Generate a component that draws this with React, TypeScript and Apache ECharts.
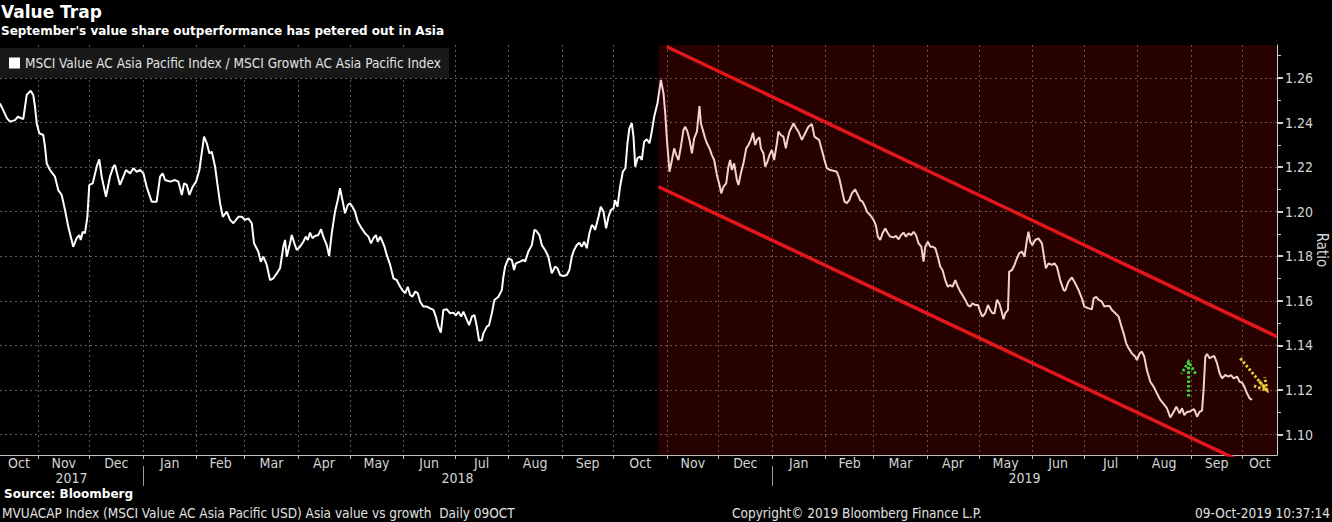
import React, { useEffect, useRef } from "react";
import * as echarts from "echarts";

const DAY = 86400000;
const START = Date.UTC(2017, 9, 10);
const END_DAY = 741;
const END = START + END_DAY * DAY;
const Y_MIN = 1.0908;
const Y_MAX = 1.2748;

const MONTHS = ["Jan", "Feb", "Mar", "Apr", "May", "Jun", "Jul", "Aug", "Sep", "Oct", "Nov", "Dec"];
const majorTicks = [1.1, 1.12, 1.14, 1.16, 1.18, 1.2, 1.22, 1.24, 1.26];
const minorTicks = [1.11, 1.13, 1.15, 1.17, 1.19, 1.21, 1.23, 1.25, 1.27];
const yearBreaks = [Date.UTC(2018, 0, 1), Date.UTC(2019, 0, 1)];

const SERIES_NAME = "MSCI Value AC Asia Pacific Index / MSCI Growth AC Asia Pacific Index";

// [days since 10-Oct-2017, ratio]
const ratioPoints: [number, number][] = [
  [0.0, 1.2486], [4.1, 1.2419], [5.8, 1.2404], [8.7, 1.2411], [10.4, 1.2426], [13.5, 1.2415],
  [15.5, 1.2524], [17.8, 1.2543], [19.3, 1.2524], [20.3, 1.2471], [21.3, 1.2397], [22.8, 1.2352],
  [25.1, 1.2344], [26.1, 1.2292], [27.1, 1.2217], [29.0, 1.2187], [31.9, 1.2157], [33.8, 1.2097],
  [35.8, 1.2075], [37.7, 1.2008], [39.6, 1.1933], [42.5, 1.1843], [44.5, 1.1881], [46.0, 1.1895],
  [46.8, 1.1873], [48.0, 1.191], [49.3, 1.1903], [50.7, 1.1977], [51.8, 1.212], [53.8, 1.2127],
  [56.1, 1.2202], [57.6, 1.2235], [59.0, 1.2157], [61.5, 1.2067], [63.8, 1.2157], [65.8, 1.2202],
  [66.7, 1.221], [69.6, 1.212], [71.6, 1.2157], [73.1, 1.2187], [75.5, 1.2172], [77.4, 1.2195],
  [79.3, 1.2179], [81.3, 1.2187], [83.2, 1.2172], [85.1, 1.2112], [88.0, 1.2045], [90.9, 1.2045],
  [92.9, 1.2157], [94.4, 1.2172], [95.8, 1.2142], [98.7, 1.2135], [101.6, 1.2142], [103.5, 1.2135],
  [105.5, 1.2075], [106.8, 1.2127], [108.4, 1.212], [109.9, 1.2075], [111.8, 1.2112], [113.8, 1.2135],
  [115.7, 1.2187], [118.4, 1.2337], [120.0, 1.2307], [121.5, 1.2262], [122.9, 1.2269], [124.8, 1.2202],
  [126.1, 1.2127], [127.7, 1.2038], [129.3, 1.1977], [131.6, 1.2], [133.5, 1.1963], [135.4, 1.1948],
  [138.3, 1.1977], [140.3, 1.1977], [142.2, 1.1963], [144.1, 1.197], [146.1, 1.1948], [147.4, 1.1858],
  [149.9, 1.182], [151.3, 1.1775], [152.8, 1.1798], [154.8, 1.1761], [156.7, 1.1693], [158.6, 1.1701],
  [160.6, 1.1723], [162.5, 1.1746], [164.4, 1.1843], [165.4, 1.1873], [166.4, 1.1798], [168.3, 1.1858],
  [169.3, 1.1895], [170.8, 1.1858], [172.2, 1.1828], [174.1, 1.1843], [176.0, 1.1865], [177.4, 1.1888],
  [178.6, 1.1873], [179.9, 1.1906], [181.3, 1.1881], [182.8, 1.1891], [184.7, 1.1895], [186.3, 1.1921],
  [187.6, 1.1888], [189.6, 1.185], [191.0, 1.1801], [192.5, 1.1903], [194.4, 1.2], [196.0, 1.2052],
  [197.3, 1.2105], [198.7, 1.2052], [200.2, 1.1993], [201.8, 1.203], [203.1, 1.2038], [204.5, 1.2022],
  [206.0, 1.2], [207.6, 1.1955], [209.9, 1.1925], [211.8, 1.1903], [213.8, 1.1888], [215.3, 1.1858],
  [216.7, 1.1881], [218.1, 1.1895], [219.2, 1.1865], [220.6, 1.1888], [221.5, 1.1873], [223.1, 1.1843],
  [224.4, 1.1806], [226.4, 1.1761], [228.3, 1.1701], [230.2, 1.1693], [232.2, 1.1663], [233.5, 1.1648],
  [235.1, 1.1634], [236.6, 1.1663], [238.0, 1.1626], [239.3, 1.1618], [240.9, 1.1641], [242.4, 1.1634],
  [243.8, 1.1596], [245.7, 1.1574], [247.7, 1.1574], [249.6, 1.1566], [251.5, 1.1559], [252.9, 1.1529],
  [254.4, 1.1484], [255.8, 1.1457], [257.3, 1.1559], [259.3, 1.1562], [261.2, 1.1544], [263.1, 1.1547],
  [264.5, 1.1535], [266.0, 1.1551], [267.6, 1.1529], [268.9, 1.1551], [270.9, 1.1514], [272.2, 1.1491],
  [273.8, 1.1529], [275.3, 1.1536], [276.7, 1.1484], [278.0, 1.1421], [279.6, 1.1424], [280.5, 1.1454],
  [282.5, 1.1484], [283.8, 1.1491], [285.4, 1.1544], [286.9, 1.1604], [289.2, 1.1618], [291.2, 1.1648],
  [292.1, 1.1708], [293.1, 1.1753], [295.0, 1.1791], [297.0, 1.1783], [298.3, 1.1738], [299.3, 1.1768],
  [301.8, 1.1776], [303.7, 1.1783], [304.7, 1.1776], [306.6, 1.1821], [308.6, 1.185], [310.1, 1.1918],
  [311.1, 1.1915], [313.0, 1.1895], [314.4, 1.185], [316.3, 1.1828], [318.2, 1.1798], [320.2, 1.1723],
  [322.1, 1.1753], [323.5, 1.1746], [325.0, 1.1716], [326.9, 1.1711], [328.9, 1.1716], [330.4, 1.1738],
  [331.8, 1.1798], [333.1, 1.1828], [334.7, 1.185], [336.2, 1.1861], [337.6, 1.1843], [339.0, 1.1865],
  [340.5, 1.1836], [342.0, 1.1903], [343.4, 1.194], [344.4, 1.1933], [345.3, 1.1918], [347.3, 1.1977],
  [348.6, 1.2022], [350.2, 1.2], [351.7, 1.1925], [353.1, 1.1977], [354.4, 1.2007], [356.0, 1.2015],
  [356.9, 1.2052], [358.3, 1.2022], [359.8, 1.2112], [361.4, 1.2179], [362.9, 1.2195], [364.1, 1.2307],
  [365.2, 1.2374], [366.6, 1.2397], [367.6, 1.2337], [368.6, 1.2202], [369.9, 1.224], [371.5, 1.2247],
  [372.4, 1.2232], [373.8, 1.2314], [375.3, 1.2325], [376.9, 1.2307], [378.2, 1.2359], [379.6, 1.2426],
  [381.5, 1.2486], [383.5, 1.2591], [385.0, 1.2531], [386.0, 1.2442], [387.0, 1.2322], [388.5, 1.2179],
  [389.9, 1.2232], [391.2, 1.2284], [392.4, 1.2254], [393.7, 1.2232], [395.1, 1.2292], [396.6, 1.2367],
  [397.6, 1.2381], [398.9, 1.2359], [400.1, 1.2322], [401.5, 1.2262], [402.8, 1.2329], [404.4, 1.2359],
  [405.9, 1.2474], [406.7, 1.2397], [407.8, 1.2367], [409.2, 1.2329], [410.2, 1.2307], [411.7, 1.2284],
  [413.1, 1.2254], [414.4, 1.2232], [416.0, 1.2165], [417.5, 1.212], [418.5, 1.2082], [419.8, 1.2112],
  [421.4, 1.2127], [422.7, 1.2202], [423.7, 1.2232], [424.7, 1.2187], [426.0, 1.2217], [427.6, 1.2142],
  [428.5, 1.212], [429.9, 1.2172], [431.4, 1.2217], [433.0, 1.2284], [434.3, 1.2299], [435.7, 1.2322],
  [436.9, 1.2354], [438.2, 1.2299], [439.2, 1.2322], [440.7, 1.2334], [441.5, 1.2284], [443.0, 1.2262],
  [444.0, 1.2202], [445.3, 1.2224], [446.5, 1.2254], [447.9, 1.2277], [449.2, 1.2232], [450.8, 1.2307],
  [451.7, 1.2359], [453.1, 1.2344], [454.6, 1.2337], [456.0, 1.2284], [456.9, 1.2322], [458.1, 1.2359],
  [459.5, 1.2381], [460.4, 1.2397], [462.0, 1.2374], [463.3, 1.2359], [465.3, 1.2322], [467.2, 1.2352],
  [469.1, 1.2381], [471.1, 1.2393], [472.6, 1.2337], [474.0, 1.2329], [475.3, 1.2322], [476.9, 1.2277],
  [478.4, 1.2232], [479.8, 1.2195], [481.7, 1.2187], [483.6, 1.2184], [485.6, 1.2179], [487.0, 1.215],
  [488.5, 1.2097], [490.0, 1.2045], [491.4, 1.2038], [492.8, 1.2052], [494.3, 1.2082], [496.2, 1.21],
  [497.8, 1.2075], [499.1, 1.2052], [500.5, 1.2045], [502.0, 1.2022], [503.0, 1.2], [504.9, 1.1985],
  [506.9, 1.1963], [508.2, 1.194], [509.4, 1.1888], [510.8, 1.1873], [512.1, 1.1903], [513.7, 1.1925],
  [515.2, 1.1903], [516.6, 1.1888], [518.5, 1.1885], [519.9, 1.1891], [521.4, 1.1876], [522.9, 1.1895],
  [524.3, 1.1906], [525.7, 1.1888], [527.2, 1.1903], [528.7, 1.1895], [530.1, 1.191], [531.5, 1.1895],
  [533.0, 1.1858], [534.6, 1.1843], [535.9, 1.1776], [536.9, 1.1843], [538.4, 1.1865], [539.8, 1.1843],
  [541.1, 1.1843], [542.7, 1.1836], [544.2, 1.1798], [545.6, 1.1753], [546.9, 1.1738], [548.5, 1.1693],
  [550.0, 1.1663], [551.4, 1.1671], [552.7, 1.1663], [554.3, 1.1693], [555.8, 1.1663], [557.2, 1.1641],
  [558.5, 1.1626], [560.1, 1.1604], [561.6, 1.1581], [563.0, 1.1574], [564.3, 1.1589], [565.9, 1.1581],
  [567.5, 1.1581], [568.8, 1.1551], [570.1, 1.1529], [571.7, 1.1544], [573.3, 1.1581], [574.6, 1.1559],
  [575.9, 1.1544], [577.1, 1.1544], [578.5, 1.1604], [579.8, 1.1589], [581.0, 1.1559], [582.3, 1.1517],
  [583.3, 1.1544], [584.9, 1.1559], [585.6, 1.1731], [587.2, 1.1738], [588.7, 1.1761], [590.1, 1.1791],
  [591.4, 1.1813], [593.0, 1.1821], [594.5, 1.1798], [595.9, 1.1873], [596.8, 1.191], [597.8, 1.1865],
  [599.1, 1.185], [600.7, 1.1873], [602.6, 1.188], [604.6, 1.1858], [606.1, 1.1783], [606.9, 1.1746],
  [608.4, 1.1768], [610.4, 1.1761], [611.9, 1.1768], [613.3, 1.1753], [615.2, 1.1693], [617.1, 1.1649],
  [618.1, 1.1645], [620.0, 1.1686], [622.0, 1.1705], [623.9, 1.1679], [625.8, 1.1649], [627.8, 1.1611],
  [629.2, 1.1574], [631.7, 1.1566], [633.6, 1.1562], [634.6, 1.1611], [636.1, 1.1618], [637.5, 1.1604],
  [639.4, 1.1596], [640.8, 1.1574], [642.3, 1.1577], [643.8, 1.1577], [645.2, 1.1559], [647.2, 1.1544],
  [649.1, 1.1529], [650.5, 1.1491], [652.0, 1.1454], [653.5, 1.1409], [654.9, 1.1387], [656.8, 1.1364],
  [658.8, 1.1349], [659.7, 1.1334], [661.3, 1.1364], [662.6, 1.1372], [664.0, 1.1349], [665.5, 1.1289],
  [667.5, 1.1237], [669.4, 1.1215], [671.3, 1.1185], [673.3, 1.1155], [675.2, 1.1137], [677.1, 1.1118],
  [679.1, 1.1077], [680.6, 1.1095], [682.6, 1.1125], [684.5, 1.1095], [685.9, 1.1118], [687.2, 1.1087],
  [688.8, 1.1102], [690.3, 1.1102], [691.7, 1.111], [693.0, 1.1113], [694.6, 1.108], [696.1, 1.1102],
  [697.5, 1.1107], [698.4, 1.12], [699.4, 1.1349], [700.4, 1.1361], [701.9, 1.1342], [703.3, 1.1349],
  [704.6, 1.1352], [706.2, 1.132], [707.7, 1.1275], [709.1, 1.1252], [711.0, 1.1267], [712.9, 1.126],
  [714.3, 1.1267], [715.8, 1.1252], [717.8, 1.126], [719.3, 1.1237], [720.7, 1.1233], [722.0, 1.1215],
  [723.6, 1.1185], [725.1, 1.1162], [726.5, 1.1155],
];

const shadeStartDay = 382.1;
const upperTrend: [number, number][] = [[387.0, 1.274], [741.0, 1.1439]];
const lowerTrend: [number, number][] = [[382.1, 1.2112], [741.0, 1.0803]];
// arrows: [fromDay, fromValue, toDay, toValue]
const arrowSegments: [number, number, number, number][] = [
  [689.7, 1.117, 689.7, 1.1327],
  [719.7, 1.1342, 735.2, 1.1197],
];
const arrowColors = ["#3ccf3c", "#e8c832"];

const NARROW = '"Liberation Sans Narrow", "DejaVu Sans Condensed", "Arial Narrow", sans-serif';
const BOLD = '"DejaVu Sans", Verdana, sans-serif';
const AXIS_TEXT = "#d4d4d4";

const toTs = (d: number) => START + d * DAY;

function monthStarts(): number[] {
  const out: number[] = [];
  for (let i = 0; ; i++) {
    const t = Date.UTC(2017, 10 + i, 1);
    if (t > END) break;
    out.push(t);
  }
  return out;
}

function monthCenters(): number[] {
  const out: number[] = [];
  for (let i = 0; ; i++) {
    const s = Date.UTC(2017, 9 + i, 1);
    if (s > END) break;
    const e = Date.UTC(2017, 10 + i, 1);
    out.push((Math.max(s, START) + Math.min(e, END)) / 2);
  }
  return out;
}

function yearCenters(): number[] {
  const bounds = [START, ...yearBreaks, END];
  const out: number[] = [];
  for (let i = 0; i < bounds.length - 1; i++) out.push((bounds[i] + bounds[i + 1]) / 2);
  return out;
}

export default function App() {
  const ref = useRef<HTMLDivElement>(null);

  useEffect(() => {
    document.body.style.margin = "0";
    document.body.style.background = "#000";
    const chart = echarts.init(ref.current!, null, { renderer: "svg" });

    const option: any = {
      animation: false,
      backgroundColor: "#000",
      grid: { left: 0, right: 55, top: 45, bottom: 67, containLabel: false, outerBoundsMode: "none" },
      legend: {
        data: [{ name: SERIES_NAME, icon: "rect" }],
        left: 0,
        top: 48,
        itemWidth: 11,
        itemHeight: 11,
        itemGap: 5,
        padding: [8, 8, 8, 9],
        backgroundColor: "#181818",
        textStyle: { color: "#e2e2e2", fontSize: 13.5, fontFamily: NARROW },
        selectedMode: false,
      },
      xAxis: [
        {
          type: "value",
          min: START,
          max: END,
          axisLine: { show: true, onZero: false, lineStyle: { color: "#bdbdbd", width: 1 } },
          axisTick: { show: true, customValues: monthStarts(), length: 4, lineStyle: { color: "#bdbdbd" } },
          axisLabel: {
            customValues: monthCenters(),
            color: AXIS_TEXT,
            fontSize: 14,
            fontFamily: NARROW,
            margin: 1,
            formatter: (v: number) => MONTHS[new Date(v).getUTCMonth()],
          },
          splitLine: { show: true, lineStyle: { color: "#5e5e5e", type: [2, 3], width: 1 } },
        },
        {
          type: "value",
          min: START,
          max: END,
          position: "bottom",
          offset: 11,
          axisLine: { show: false, onZero: false },
          axisTick: { show: true, customValues: yearBreaks, length: 20, lineStyle: { color: "#9a9a9a" } },
          axisLabel: {
            customValues: yearCenters(),
            color: AXIS_TEXT,
            fontSize: 14,
            fontFamily: NARROW,
            margin: 5,
            formatter: (v: number) => String(new Date(v).getUTCFullYear()),
          },
          splitLine: { show: false },
        },
      ],
      yAxis: [
        {
          type: "value",
          position: "right",
          min: Y_MIN,
          max: Y_MAX,
          name: "Ratio",
          nameLocation: "middle",
          nameRotate: -90,
          nameGap: 37,
          nameMoveOverlap: false,
          nameTextStyle: { color: AXIS_TEXT, fontSize: 15, fontFamily: NARROW },
          axisLine: { show: true, onZero: false, lineStyle: { color: "#d0d0d0", width: 1 } },
          axisTick: { show: true, customValues: majorTicks, length: 6, lineStyle: { color: "#d0d0d0", width: 2 } },
          axisLabel: {
            customValues: majorTicks,
            color: AXIS_TEXT,
            fontSize: 14,
            fontFamily: NARROW,
            margin: 8,
            formatter: (v: number) => v.toFixed(2),
          },
          splitLine: { show: true, lineStyle: { color: "#5e5e5e", type: [2, 3], width: 1 } },
        },
        {
          type: "value",
          position: "right",
          min: Y_MIN,
          max: Y_MAX,
          axisLine: { show: false, onZero: false },
          axisTick: { show: true, customValues: minorTicks, length: 4, lineStyle: { color: "#d0d0d0", width: 1 } },
          axisLabel: { show: false },
          splitLine: { show: false },
        },
      ],
      series: [
        {
          name: SERIES_NAME,
          type: "line",
          z: 2,
          data: ratioPoints.map(([d, v]) => [toTs(d), v]),
          showSymbol: false,
          symbol: "none",
          color: "#ffffff",
          lineStyle: { color: "#ffffff", width: 2 },
        },
        {
          name: "channel",
          type: "custom",
          z: 3,
          silent: true,
          clip: true,
          data: [[toTs(shadeStartDay), END, Y_MIN]],
          encode: { x: [0, 1], y: 2 },
          renderItem: (params: any, api: any) => {
            const x1 = api.coord([api.value(0), Y_MAX])[0];
            const x2 = api.coord([api.value(1), Y_MAX])[0];
            const cs = params.coordSys;
            return {
              type: "rect",
              shape: { x: x1, y: cs.y, width: x2 - x1, height: cs.height },
              style: { fill: "rgba(205,0,0,0.19)" },
            };
          },
        },
        {
          name: "upper",
          type: "line",
          z: 4,
          clip: true,
          data: upperTrend.map(([d, v]) => [toTs(d), v]),
          symbol: "none",
          lineStyle: { color: "#e3161c", width: 3.5 },
        },
        {
          name: "lower",
          type: "line",
          z: 4,
          clip: true,
          data: lowerTrend.map(([d, v]) => [toTs(d), v]),
          symbol: "none",
          lineStyle: { color: "#e3161c", width: 3.5 },
        },
        {
          name: "arrows",
          type: "custom",
          z: 5,
          silent: true,
          data: arrowSegments.map(([d1, v1, d2, v2]) => [toTs(d1), v1, toTs(d2), v2]),
          encode: { x: [0, 2], y: [1, 3] },
          renderItem: (params: any, api: any) => {
            const p1 = api.coord([api.value(0), api.value(1)]);
            const p2 = api.coord([api.value(2), api.value(3)]);
            const dx = p2[0] - p1[0];
            const dy = p2[1] - p1[1];
            const len = Math.hypot(dx, dy) || 1;
            const ux = dx / len;
            const uy = dy / len;
            const head = 12;
            const w = 7;
            const bx = p2[0] - head * ux;
            const by = p2[1] - head * uy;
            const left = [bx - w * uy, by + w * ux];
            const right = [bx + w * uy, by - w * ux];
            const color = arrowColors[params.dataIndex];
            const style = { stroke: color, lineWidth: 3, lineDash: [2.5, 2], fill: "none" };
            return {
              type: "group",
              children: [
                { type: "polyline", shape: { points: [p1, p2] }, style },
                { type: "polyline", shape: { points: [left, p2, right] }, style },
                { type: "polyline", shape: { points: [[bx, by], p2] }, style },
              ],
            };
          },
        },
      ],
      graphic: [
        {
          type: "text",
          left: 1,
          top: 3,
          style: { text: "Value Trap", fill: "#ffffff", font: `bold 17px ${BOLD}` },
        },
        {
          type: "text",
          left: 1,
          top: 25,
          style: {
            text: "September's value share outperformance has petered out in Asia",
            fill: "#ffffff",
            font: `bold 12px ${BOLD}`,
          },
        },
        {
          type: "text",
          left: 4,
          top: 488,
          style: { text: "Source: Bloomberg", fill: "#ffffff", font: `bold 12px ${BOLD}` },
        },
        {
          type: "text",
          left: 2,
          top: 506,
          style: {
            text: "MVUACAP Index (MSCI Value AC Asia Pacific USD) Asia value vs growth  Daily 09OCT",
            fill: "#e0e0e0",
            font: `13.5px ${NARROW}`,
          },
        },
        {
          type: "text",
          left: 732,
          top: 506,
          style: { text: "Copyright\u00a9 2019 Bloomberg Finance L.P.", fill: "#e0e0e0", font: `13.5px ${NARROW}` },
        },
        {
          type: "text",
          right: 2,
          top: 506,
          style: { text: "09-Oct-2019 10:37:14", fill: "#e0e0e0", font: `13.5px ${NARROW}` },
        },
      ],
    };

    chart.setOption(option);
    return () => chart.dispose();
  }, []);

  return (
    <div
      ref={ref}
      style={{ position: "fixed", left: 0, top: 0, width: 1332, height: 522, background: "#000" }}
    />
  );
}
